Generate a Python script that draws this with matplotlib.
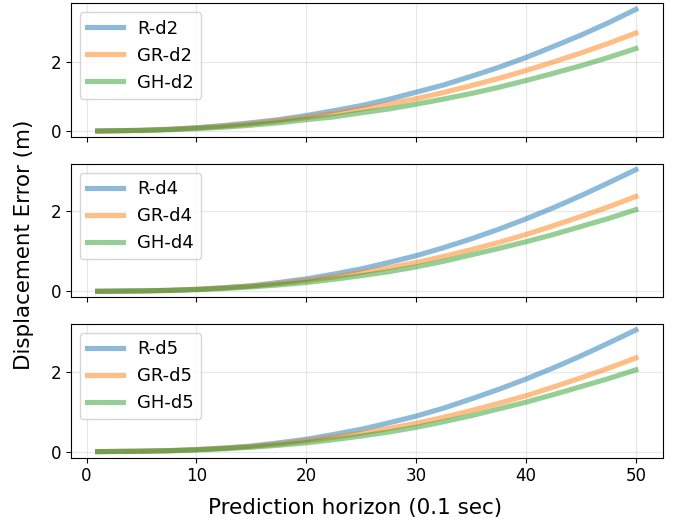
import matplotlib
matplotlib.use("Agg")
import matplotlib.pyplot as plt

# prediction steps (0.1 sec)
steps = [1, 5, 7.5, 10, 12.5, 15, 17.5, 20, 22.5, 25, 27.5,
         30, 32.5, 35, 37.5, 40, 42.5, 45, 47.5, 50]

# displacement error (m)
r_d2 = [0.0, 0.02, 0.05, 0.095, 0.16, 0.24, 0.33, 0.45, 0.59, 0.74, 0.92,
        1.13, 1.34, 1.59, 1.85, 2.14, 2.46, 2.79, 3.15, 3.54]
gr_d2 = [0.0, 0.02, 0.047, 0.09, 0.14, 0.21, 0.30, 0.39, 0.51, 0.64, 0.78,
         0.94, 1.12, 1.32, 1.53, 1.76, 2.01, 2.27, 2.55, 2.85]
gh_d2 = [0.0, 0.015, 0.037, 0.07, 0.11, 0.17, 0.24, 0.33, 0.41, 0.53, 0.64,
         0.78, 0.93, 1.09, 1.27, 1.47, 1.68, 1.90, 2.14, 2.40]

r_d4 = [0.0, 0.01, 0.025, 0.05, 0.09, 0.14, 0.22, 0.31, 0.43, 0.56, 0.72,
        0.89, 1.09, 1.31, 1.55, 1.81, 2.09, 2.39, 2.71, 3.04]
gr_d4 = [0.0, 0.01, 0.025, 0.05, 0.085, 0.13, 0.19, 0.27, 0.36, 0.47, 0.59,
         0.72, 0.87, 1.04, 1.22, 1.42, 1.64, 1.87, 2.11, 2.37]
gh_d4 = [0.0, 0.01, 0.02, 0.04, 0.07, 0.11, 0.16, 0.22, 0.30, 0.39, 0.49,
         0.61, 0.75, 0.91, 1.07, 1.24, 1.42, 1.62, 1.82, 2.04]

r_d5 = [0.0, 0.01, 0.025, 0.05, 0.09, 0.14, 0.22, 0.31, 0.43, 0.56, 0.72,
        0.89, 1.09, 1.32, 1.56, 1.82, 2.10, 2.40, 2.72, 3.05]
gr_d5 = [0.0, 0.01, 0.025, 0.05, 0.085, 0.13, 0.19, 0.27, 0.36, 0.46, 0.58,
         0.71, 0.86, 1.03, 1.21, 1.40, 1.62, 1.85, 2.09, 2.35]
gh_d5 = [0.0, 0.01, 0.02, 0.04, 0.07, 0.11, 0.16, 0.22, 0.30, 0.39, 0.49,
         0.61, 0.75, 0.90, 1.07, 1.24, 1.43, 1.63, 1.83, 2.05]

panels = [
    (["R-d2", "GR-d2", "GH-d2"], [r_d2, gr_d2, gh_d2]),
    (["R-d4", "GR-d4", "GH-d4"], [r_d4, gr_d4, gh_d4]),
    (["R-d5", "GR-d5", "GH-d5"], [r_d5, gr_d5, gh_d5]),
]

fig, axes = plt.subplots(3, 1, figsize=(6.77, 5.21), dpi=100, sharex=True)
for ax, (names, series) in zip(axes, panels):
    for name, vals in zip(names, series):
        ax.plot(steps, vals, linewidth=3.7, alpha=0.5, label=name)
    ax.grid(True, alpha=0.3)
    ax.set_yticks([0, 2])
    ax.tick_params(labelsize=12)
    ax.legend(loc="upper left", fontsize=13)

# shared axis labels, placed like the original figure-level labels
fig.text(0.524, 0.025, "Prediction horizon (0.1 sec)", ha="center", va="center", fontsize=15.5)
fig.text(0.036, 0.531, "Displacement Error (m)", rotation=90, ha="center", va="center", fontsize=15.4)
plt.subplots_adjust(left=0.1044, right=0.979, top=0.9937, bottom=0.1215, hspace=0.198)
plt.savefig("out.png")
